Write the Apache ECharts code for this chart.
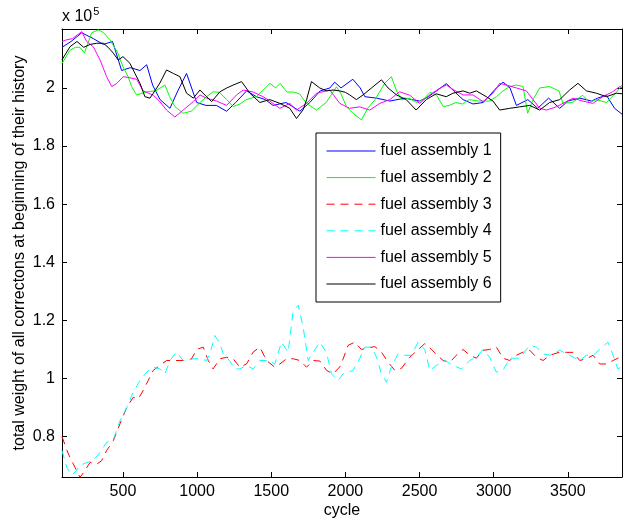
<!DOCTYPE html>
<html><head><meta charset="utf-8">
<script src="https://cdn.jsdelivr.net/npm/echarts@6/dist/echarts.min.js"></script>
<style>html,body{margin:0;padding:0;background:#fff}#c{width:623px;height:522px}</style>
</head><body><div id="c"></div>
<script>
// values in units of 10^5
const seriesNames = ['fuel assembly 1','fuel assembly 2','fuel assembly 3','fuel assembly 4','fuel assembly 5','fuel assembly 6'];
const xTicks = [500,1000,1500,2000,2500,3000,3500];
const yTicks = [0.8,1,1.2,1.4,1.6,1.8,2];

const fa1 = [[89,2.14],[150,2.16],[222,2.19],[300,2.17],[367,2.15],[430,2.16],[491,2.06],[550,2.07],[615,2.06],[660,2.08],[700,2.01],[750,1.96],[817,1.93],[870,1.99],[929,2.05],[997,1.95],[1060,1.94],[1130,1.94],[1199,1.92],[1260,1.95],[1334,1.99],[1400,1.97],[1460,1.96],[1512,1.94],[1600,1.95],[1693,1.92],[1760,1.95],[1830,1.99],[1895,2.00],[1928,2.02],[1970,2.00],[2050,2.03],[2100,2.00],[2131,1.97],[2210,1.965],[2300,1.955],[2400,1.965],[2500,1.955],[2560,1.97],[2614,1.99],[2681,2.015],[2730,1.99],[2793,1.96],[2860,1.945],[2930,1.95],[3018,2.00],[3063,2.02],[3110,2.00],[3153,1.94],[3230,1.96],[3297,1.93],[3370,1.965],[3445,1.93],[3500,1.955],[3580,1.965],[3660,1.955],[3700,1.965],[3760,1.975],[3815,1.93],[3865,1.91]];

const fa2 = [[89,2.085],[143,2.13],[180,2.14],[210,2.14],[240,2.12],[289,2.19],[334,2.2],[370,2.19],[412,2.166],[466,2.12],[500,2.073],[535,2.039],[558,2.005],[592,1.976],[660,1.987],[720,1.99],[783,2.01],[815,1.97],[850,1.936],[906,1.913],[960,1.92],[1020,1.95],[1064,1.97],[1108,1.987],[1150,1.985],[1200,1.96],[1243,1.936],[1290,1.945],[1330,1.96],[1400,1.97],[1491,2.016],[1530,2.0],[1560,2.016],[1605,1.986],[1650,1.986],[1690,1.98],[1738,1.947],[1805,1.924],[1870,1.95],[1940,2.004],[1970,1.98],[2007,1.936],[2051,1.913],[2108,1.89],[2150,1.93],[2200,1.96],[2265,2.016],[2310,2.039],[2345,1.99],[2378,1.959],[2430,1.965],[2480,1.95],[2525,1.96],[2570,1.985],[2615,1.975],[2659,1.936],[2700,1.94],[2745,1.95],[2790,1.945],[2835,1.96],[2900,1.955],[2970,1.955],[3018,1.97],[3063,1.99],[3108,2.005],[3153,2.01],[3198,2.005],[3229,1.913],[3265,1.96],[3310,2.0],[3377,2.005],[3440,1.99],[3466,1.948],[3530,1.95],[3600,1.975],[3645,1.95],[3690,1.96],[3760,1.95],[3830,1.987],[3865,2.01]];

const fa3 = [[89,0.80],[132,0.74],[177,0.694],[210,0.66],[233,0.675],[278,0.711],[323,0.705],[356,0.717],[390,0.752],[435,0.786],[480,0.844],[525,0.90],[569,0.935],[603,0.93],[637,0.959],[670,0.993],[704,1.028],[749,1.045],[794,1.062],[839,1.062],[884,1.062],[929,1.062],[963,1.068],[997,1.10],[1041,1.108],[1075,1.062],[1108,1.033],[1154,1.068],[1199,1.073],[1243,1.068],[1288,1.039],[1333,1.05],[1378,1.091],[1423,1.108],[1468,1.062],[1524,1.039],[1558,1.05],[1603,1.068],[1648,1.068],[1693,1.062],[1738,1.039],[1783,1.062],[1828,1.06],[1873,1.028],[1917,1.016],[1962,1.04],[1985,1.068],[2018,1.114],[2063,1.125],[2108,1.10],[2153,1.105],[2198,1.11],[2243,1.091],[2288,1.056],[2333,1.028],[2378,1.035],[2434,1.073],[2480,1.095],[2535,1.12],[2580,1.10],[2614,1.082],[2659,1.062],[2704,1.056],[2748,1.08],[2793,1.10],[2838,1.08],[2883,1.07],[2928,1.097],[2973,1.10],[3018,1.108],[3063,1.07],[3108,1.062],[3153,1.08],[3198,1.091],[3243,1.097],[3288,1.073],[3333,1.062],[3378,1.08],[3445,1.091],[3490,1.09],[3535,1.09],[3580,1.062],[3625,1.068],[3670,1.08],[3714,1.05],[3760,1.05],[3805,1.062],[3850,1.073],[3865,1.085]];

const fa4 = [[89,0.752],[121,0.694],[155,0.668],[180,0.68],[210,0.70],[255,0.711],[300,0.717],[345,0.746],[390,0.78],[435,0.79],[480,0.855],[525,0.90],[569,0.953],[615,0.993],[660,1.022],[704,1.039],[749,1.033],[783,1.016],[817,1.062],[861,1.091],[906,1.062],[940,1.062],[974,1.068],[1019,1.068],[1064,1.062],[1086,1.085],[1120,1.148],[1154,1.12],[1176,1.085],[1221,1.06],[1255,1.033],[1288,1.033],[1333,1.045],[1378,1.033],[1423,1.062],[1479,1.062],[1524,1.05],[1569,1.125],[1614,1.09],[1648,1.234],[1682,1.252],[1715,1.177],[1749,1.062],[1783,1.09],[1827,1.125],[1872,1.09],[1906,1.016],[1951,0.993],[1985,1.016],[2052,1.028],[2097,1.07],[2131,1.108],[2176,1.108],[2210,1.073],[2243,1.016],[2277,0.987],[2310,1.04],[2355,1.085],[2400,1.08],[2445,1.08],[2490,1.125],[2535,1.10],[2569,1.028],[2614,1.045],[2670,1.062],[2726,1.045],[2782,1.033],[2838,1.062],[2883,1.073],[2928,1.10],[2973,1.073],[3018,1.022],[3063,1.028],[3108,1.07],[3175,1.07],[3243,1.114],[3288,1.108],[3333,1.085],[3378,1.08],[3445,1.097],[3512,1.08],[3580,1.062],[3625,1.08],[3670,1.08],[3714,1.10],[3770,1.125],[3805,1.08],[3837,1.033],[3865,1.04]];

const fa5 = [[89,2.16],[115,2.165],[160,2.17],[222,2.194],[255,2.16],[300,2.142],[345,2.097],[390,2.039],[424,2.005],[457,2.015],[502,2.039],[547,2.035],[592,2.03],[637,1.99],[705,1.975],[749,1.953],[794,1.924],[850,1.90],[906,1.924],[974,1.953],[1019,1.976],[1064,1.965],[1131,1.955],[1199,1.94],[1266,1.976],[1311,1.993],[1378,1.986],[1445,1.97],[1490,1.955],[1558,1.93],[1625,1.947],[1670,1.924],[1738,1.947],[1805,1.982],[1872,1.99],[1895,1.993],[1962,1.947],[2029,1.93],[2097,1.935],[2164,1.924],[2232,1.947],[2299,1.96],[2366,1.987],[2434,1.975],[2500,1.947],[2568,1.976],[2636,1.999],[2681,2.01],[2726,1.995],[2793,1.976],[2860,1.976],[2928,1.953],[2995,1.982],[3040,2.016],[3085,2.01],[3153,2.0],[3220,1.99],[3265,1.96],[3310,1.93],[3355,1.924],[3422,1.935],[3467,1.947],[3534,1.965],[3600,1.955],[3668,1.947],[3735,1.97],[3802,1.987],[3850,2.005],[3865,2.0]];

const fa6 = [[89,2.097],[143,2.142],[190,2.16],[235,2.14],[280,2.15],[323,2.154],[368,2.154],[400,2.14],[435,2.12],[468,2.096],[500,2.108],[547,2.085],[581,2.05],[615,2.016],[648,1.97],[682,1.965],[715,1.99],[749,2.017],[794,2.062],[840,2.05],[884,2.039],[929,1.982],[975,1.965],[1019,1.993],[1064,1.97],[1098,1.953],[1154,1.987],[1200,2.0],[1243,2.01],[1300,2.022],[1356,1.982],[1423,1.95],[1490,1.96],[1558,1.947],[1625,1.93],[1670,1.895],[1715,1.925],[1738,1.959],[1771,2.022],[1827,2.0],[1872,1.99],[1917,1.993],[1962,1.99],[2000,1.985],[2029,1.976],[2074,1.96],[2119,1.976],[2185,2.004],[2243,2.028],[2288,2.0],[2345,1.976],[2410,1.96],[2477,1.924],[2545,1.96],[2612,1.98],[2680,1.97],[2725,1.982],[2793,1.99],[2838,1.982],[2883,1.99],[2950,1.97],[2995,1.955],[3040,1.924],[3108,1.93],[3175,1.935],[3243,1.94],[3310,1.924],[3377,1.95],[3445,1.96],[3512,1.993],[3568,2.016],[3625,1.99],[3692,1.982],[3760,1.97],[3827,1.982],[3865,1.98]];

const seriesData = [fa1, fa2, fa3, fa4, fa5, fa6];
const seriesColors = ['#0000ff','#00ff00','#ff0000','#00ffff','#ff00ff','#000000'];
const seriesDashed = [false,false,true,true,false,false];

const X_MIN = 89, X_MAX = 3865, Y_MIN = 0.661, Y_MAX = 2.203;
const FONT = "'Liberation Sans', Arial, Helvetica, sans-serif";
const FS = 16;

function boxAxis(pos, ticks, showLabels, extra) {
  return Object.assign({
    type: 'value', position: pos,
    axisLine: { show: true, onZero: false, lineStyle: { color: '#000', width: 1 } },
    axisTick: { show: true, inside: true, length: 5, customValues: ticks, lineStyle: { color: '#000', width: 1 } },
    axisLabel: { show: showLabels, customValues: ticks, color: '#000', fontSize: FS, fontFamily: FONT, margin: 7,
      formatter: v => String(v) },
    splitLine: { show: false }
  }, extra);
}

const chart = echarts.init(document.getElementById('c'), null, { renderer: 'canvas' });
chart.setOption({
  animation: false,
  backgroundColor: '#fff',
  grid: { left: 62, right: 1, top: 29, bottom: 45, containLabel: false, outerBoundsMode: 'none' },
  xAxis: [
    boxAxis('bottom', xTicks, true, { min: X_MIN, max: X_MAX, name: 'cycle', nameLocation: 'middle', nameGap: 26,
      nameMoveOverlap: false,
      nameTextStyle: { color: '#000', fontSize: FS, fontFamily: FONT } }),
    boxAxis('top', xTicks, false, { min: X_MIN, max: X_MAX })
  ],
  yAxis: [
    boxAxis('left', yTicks, true, { min: Y_MIN, max: Y_MAX, name: 'total weight of all correctons at beginning of their history',
      nameLocation: 'middle', nameGap: 34, nameMoveOverlap: false,
      nameTextStyle: { color: '#000', fontSize: FS, fontFamily: FONT } }),
    boxAxis('right', yTicks, false, { min: Y_MIN, max: Y_MAX })
  ],
  legend: {
    orient: 'vertical', left: 316, top: 133,
    padding: [10, 9, 10, 10], itemWidth: 49, itemHeight: 14, itemGap: 10.6,
    backgroundColor: '#fff', borderColor: '#000', borderWidth: 1,
    itemStyle: { opacity: 0 },
    lineStyle: { width: 1 },
    textStyle: { color: '#000', fontSize: 16, fontFamily: FONT },
    data: seriesNames
  },
  graphic: [{
    type: 'text', left: 62, top: 6,
    style: { text: '{a|x 10}{s|5}', rich: { a: { fontSize: FS, fontFamily: FONT, fill: '#000' }, s: { fontSize: 11, fontFamily: FONT, fill: '#000', padding: [0, 0, 10, 1] } } }
  }],
  series: seriesData.map((d, i) => ({
    type: 'line', name: seriesNames[i], data: d, xAxisIndex: 0, yAxisIndex: 0,
    showSymbol: false, symbol: 'none', smooth: false,
    lineStyle: { color: seriesColors[i], width: 1, type: seriesDashed[i] ? [8, 6] : 'solid' },
    itemStyle: { color: seriesColors[i] },
    emphasis: { disabled: true }
  }))
});
</script></body></html>
